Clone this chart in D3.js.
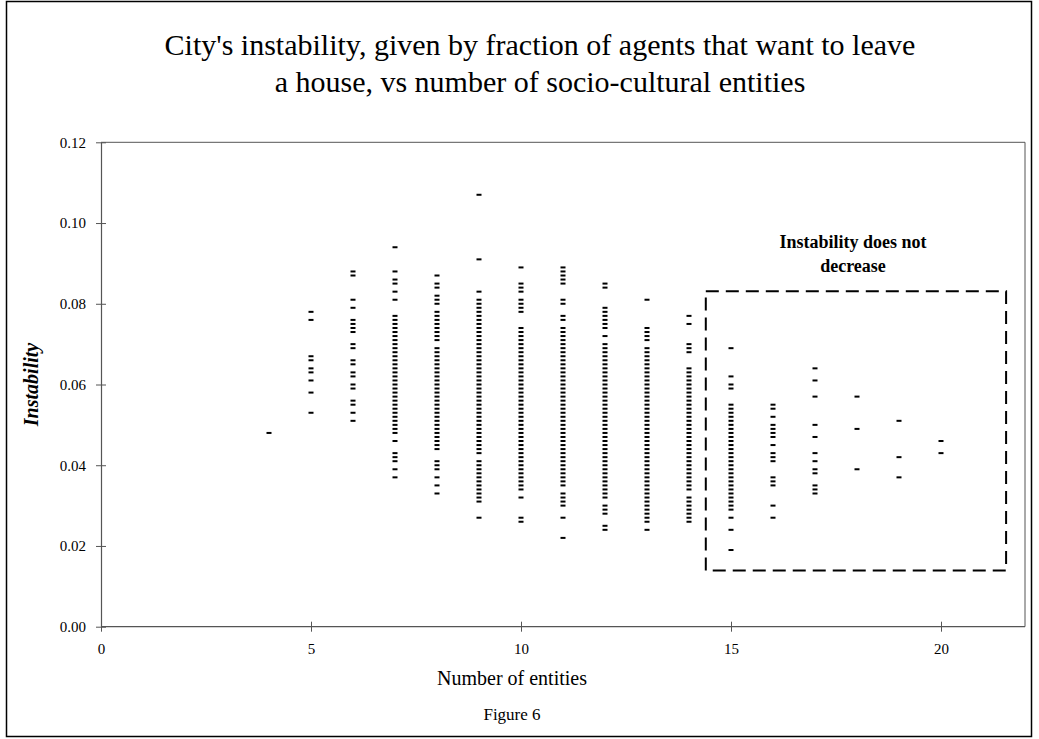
<!DOCTYPE html>
<html><head><meta charset="utf-8">
<script src="https://cdn.jsdelivr.net/npm/d3@7"></script>
<style>body{margin:0;background:#fff}svg{display:block}text{font-family:"Liberation Serif","Times New Roman",serif}</style>
</head><body><div id="chart"></div>
<script>
// Number of entities (x) for each column of dashes
const entities = [4,5,6,7,8,9,10,11,12,13,14,15,16,17,18,19,20];
// Instability values, in thousandths (0.001), one array per number of entities
const inst4  = [48];
const inst5  = [78,76,67,66,64,63,61,58,53];
const inst6  = [88,87,81,79,76,75,74,73,70,69,66,65,63,62,60,59,56,55,53,51];
const inst7  = [94,88,86,85,83,81,77,76,75,74,73,72,71,70,69,68,67,66,65,64,63,62,61,60,59,58,57,56,55,54,53,52,51,50,49,48,46,43,42,41,39,37];
const inst8  = [87,85,84,82,81,80,78,77,76,75,74,73,72,71,69,68,67,66,65,64,63,62,61,60,59,58,57,56,55,54,53,52,51,50,49,48,47,46,45,44,41,40,39,37,35,33];
const inst9  = [107,91,83,81,80,79,78,77,76,75,74,73,72,71,70,69,68,67,66,65,64,63,62,61,60,59,58,57,56,55,54,53,52,51,50,49,48,47,46,45,44,43,41,40,39,38,37,36,35,34,33,32,31,27];
const inst10 = [89,85,84,83,81,80,79,78,74,73,72,71,70,69,68,67,66,65,64,63,62,61,60,59,58,57,56,55,54,53,52,51,50,49,48,47,46,45,44,43,42,41,40,39,38,37,36,35,34,32,27,26];
const inst11 = [89,88,87,86,85,81,80,77,76,74,73,72,71,70,69,68,67,66,65,64,63,62,61,60,59,58,57,56,55,54,53,52,51,50,49,48,47,46,45,44,43,42,41,40,39,38,37,36,35,33,32,31,30,27,22];
const inst12 = [85,84,79,78,77,76,75,74,72,70,69,68,67,66,65,64,63,62,61,60,59,58,57,56,55,54,53,52,51,50,49,48,47,46,45,44,43,42,41,40,39,38,37,36,35,34,33,32,30,29,28,25,24];
const inst13 = [81,74,73,72,71,69,68,67,66,65,64,63,62,61,60,59,58,57,56,55,54,53,52,51,50,49,48,47,46,45,44,43,42,41,40,39,38,37,36,35,34,33,32,31,30,29,28,27,26,24];
const inst14 = [77,75,70,69,68,64,63,62,61,60,59,58,57,56,55,54,53,52,51,50,49,48,47,46,45,44,43,42,41,40,39,38,37,36,35,34,32,31,30,29,28,27,26];
const inst15 = [69,62,60,59,55,54,53,52,51,50,49,48,47,46,45,44,43,42,41,40,39,38,37,36,35,34,33,32,31,30,29,27,24,19];
const inst16 = [55,54,52,50,49,48,47,45,43,42,41,37,36,35,30,27];
const inst17 = [64,61,57,50,47,43,41,39,38,35,34,33];
const inst18 = [57,49,39];
const inst19 = [51,42,37];
const inst20 = [46,43];
const instabilitySeries = [inst4,inst5,inst6,inst7,inst8,inst9,inst10,inst11,inst12,inst13,inst14,inst15,inst16,inst17,inst18,inst19,inst20];
// Axis ticks
const xTicks = [0,5,10,15,20];
const yTicks = [0,0.02,0.04,0.06,0.08,0.10,0.12];
// Annotation box corners (data units)
const boxX = [14.4, 21.55];
const boxY = [0.0139, 0.0831];

const points = [];
entities.forEach((e,i)=>instabilitySeries[i].forEach(v=>points.push({x:e,y:v/1000})));

const W=1039,H=739;
const L=101,R=1025,T=142.3,B=626.7;
const svg=d3.select("#chart").append("svg").attr("width",W).attr("height",H);
svg.append("rect").attr("x",0).attr("y",0).attr("width",W).attr("height",H).attr("fill","#fff");
// outer frame
svg.append("rect").attr("x",6.5).attr("y",1.5).attr("width",1025).attr("height",735).attr("fill","none").attr("stroke","#000").attr("stroke-width",1.5);

const x=d3.scaleLinear().domain([0,22]).range([L,R]);
const y=d3.scaleLinear().domain([0,0.12]).range([B,T]);

// plot border top/right
svg.append("path").attr("d",`M${L},${T}H${R}V${B}`).attr("fill","none").attr("stroke","#555").attr("stroke-width",1);

const gx=svg.append("g").attr("transform",`translate(0,${B})`)
  .call(d3.axisBottom(x).tickValues(xTicks).tickFormat(d3.format("d")).tickSizeInner(5).tickSizeOuter(0).tickPadding(12));
gx.selectAll(".tick line").attr("y1",-5).attr("y2",5);
const gy=svg.append("g").attr("transform",`translate(${L},0)`)
  .call(d3.axisLeft(y).tickValues(yTicks).tickFormat(d3.format(".2f")).tickSizeInner(5).tickSizeOuter(0).tickPadding(10));
gy.selectAll(".tick line").attr("x1",-5).attr("x2",5);
[gx,gy].forEach(g=>{
  g.select(".domain").attr("stroke","#555").attr("stroke-width",1.2);
  g.selectAll(".tick line").attr("stroke","#555");
  g.selectAll(".tick text").attr("font-family","Liberation Serif").attr("font-size",15).attr("fill","#000");
});
gx.select(".domain").attr("d",`M${L},0H${R}`);

// dashes
svg.append("g").selectAll("rect").data(points).join("rect")
  .attr("x",d=>x(d.x)-2.5).attr("y",d=>y(d.y)-1).attr("width",5).attr("height",2).attr("fill","#000");

// dashed box
svg.append("rect").attr("x",x(boxX[0])).attr("y",y(boxY[1])).attr("width",x(boxX[1])-x(boxX[0])).attr("height",y(boxY[0])-y(boxY[1]))
  .attr("fill","none").attr("stroke","#000").attr("stroke-width",2).attr("stroke-dasharray","13,7");

// annotation
const ann=svg.append("text").attr("text-anchor","middle").attr("font-weight","bold").attr("font-size",18).attr("fill","#000");
ann.append("tspan").attr("x",853).attr("y",248).text("Instability does not");
ann.append("tspan").attr("x",853).attr("y",272).text("decrease");

// title
const t=svg.append("text").attr("text-anchor","middle").attr("font-size",30).attr("fill","#000");
t.append("tspan").attr("x",540).attr("y",55).text("City's instability, given by fraction of agents that want to leave");
t.append("tspan").attr("x",540).attr("y",92).text("a house, vs number of socio-cultural entities");

// axis titles
svg.append("text").attr("x",512).attr("y",685).attr("text-anchor","middle").attr("font-size",20).text("Number of entities");
svg.append("text").attr("x",512).attr("y",720).attr("text-anchor","middle").attr("font-size",17).text("Figure 6");
svg.append("text").attr("transform",`translate(38,${(T+B)/2}) rotate(-90)`).attr("text-anchor","middle")
  .attr("font-size",20).attr("font-weight","bold").attr("font-style","italic").text("Instability");
</script></body></html>
